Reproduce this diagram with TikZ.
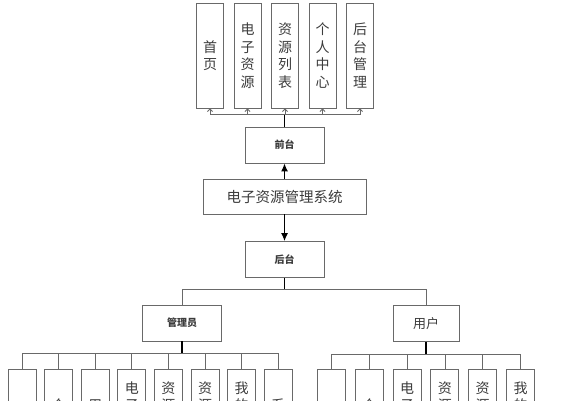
\documentclass[tikz,border=0pt]{standalone}
\usepackage{fontspec}
\setmainfont{Noto Sans CJK SC}
\usetikzlibrary{arrows.meta}
\definecolor{boxgray}{RGB}{105,105,105}
\definecolor{txtgray}{RGB}{60,60,60}
\tikzset{
  topbox/.style={draw=boxgray, line width=0.9pt, fill=white, minimum width=27pt, minimum height=105pt,
    inner sep=0pt, align=center, text=txtgray, font=\fontsize{14}{17.5}\selectfont},
  leafbox/.style={topbox, minimum width=28pt, minimum height=125pt},
  midbox/.style={draw=boxgray, line width=0.9pt, fill=white, minimum width=79pt, minimum height=36pt,
    inner sep=0pt, text=txtgray, font=\fontsize{10}{12}\selectfont\bfseries},
  sysbox/.style={midbox, minimum width=163pt, minimum height=35pt, font=\fontsize{14.5}{16}\selectfont},
  link/.style={draw=boxgray, line width=0.8pt},
  trunk/.style={draw=black, line width=1.1pt}
}
\begin{document}
\begin{tikzpicture}[x=1pt,y=-1pt]
\useasboundingbox (0,0) rectangle (564,400);
\clip (0,0) rectangle (564,400);
% front pages
\foreach \t [count=\i] in {{首\\页},{电\\子\\资\\源},{资\\源\\列\\表},{个\\人\\中\\心},{后\\台\\管\\理}}
  \node[topbox] (top\i) at ({172.5+37.5*\i},55.5) {\t};
\node[midbox] (qiantai) at (284.5,145) {前台};
\node[sysbox] (sys) at (284.5,196.5) {电子资源管理系统};
\node[midbox] (houtai) at (284.5,259.5) {后台};
\node[midbox] (admin) at (182,323) {管理员};
\node[midbox, minimum width=66pt, font=\fontsize{13}{15}\selectfont] (user) at (426,323.5) {用户};
% admin functions
\foreach \t [count=\i] in {{首\\页},{个\\人\\中\\心},{用\\户\\管\\理},{电\\子\\资\\源\\管\\理},
    {资\\源\\分\\类\\管\\理},{资\\源\\列\\表\\管\\理},{我\\的\\收\\藏\\管\\理},{系\\统\\管\\理}}
  \node[leafbox] (a\i) at ({22+36.6*(\i-1)},431.5) {\t};
% user functions
\foreach \t [count=\i] in {{首\\页},{个\\人\\中\\心},{电\\子\\资\\源\\列\\表},{资\\源\\列\\表\\信\\息},
    {资\\源\\分\\类\\信\\息},{我\\的\\收\\藏\\管\\理}}
  \node[leafbox] (u\i) at ({331.5+37.8*(\i-1)},431.5) {\t};
% connectors
\foreach \i in {1,...,5}
  \draw[link, -{Straight Barb[length=2.5pt,width=5pt]}] (qiantai.north) -- ++(0,-12) -| (top\i.south);
\draw[trunk] (qiantai.north) -- ++(0,-12);
\draw[trunk, -{Latex[length=8pt,width=7pt]}] (sys.north) -- (qiantai.south);
\draw[trunk, -{Latex[length=8pt,width=7pt]}] (sys.south) -- (houtai.north);
\draw[link] (houtai.south) -- ++(0,11.5) -| (admin.north);
\draw[link] (houtai.south) -- ++(0,11.5) -| (user.north);
\draw[trunk] (houtai.south) -- ++(0,11.5);
\foreach \i in {1,...,8}
  \draw[link] (admin.south) -- ++(0,12) -| (a\i.north);
\draw[trunk] (admin.south) -- ++(0,12);
\foreach \i in {1,...,6}
  \draw[link] (user.south) -- ++(0,12) -| (u\i.north);
\draw[trunk] (user.south) -- ++(0,12);
\end{tikzpicture}
\end{document}
